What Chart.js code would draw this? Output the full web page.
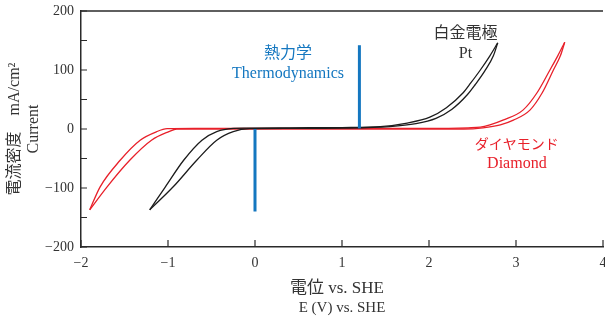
<!DOCTYPE html>
<html><head><meta charset="utf-8">
<script src="https://cdn.jsdelivr.net/npm/chart.js@4"></script>
<style>html,body{margin:0;padding:0;background:#fff}canvas{display:block}</style>
</head><body>
<canvas id="c" width="605" height="320"></canvas>
<script>
// ---- data (V vs. SHE, mA/cm2) ----
const xRange = [-2, 4];
const yRange = [-200, 200];
const yMajorStep = 100;
const yMinorStep = 50;
const xStep = 1;

// Pt electrode loop, two branches (cathodic vertex -> anodic vertex)
const ptBranchA = [[-1.21,-137],[-1.03,-98],[-0.82,-53],[-0.61,-19],[-0.44,-4.5],[-0.25,1],[-0.1,1.5],[0.4,2],[1.0,2.5],[1.44,4],[1.75,10],[2.01,20],[2.2,36],[2.39,61],[2.48,78],[2.59,100],[2.70,124],[2.79,146]];
const ptBranchB = [[-1.21,-137],[-0.94,-98],[-0.67,-53],[-0.44,-19],[-0.25,-4.5],[-0.06,0.5],[0.4,1],[1.0,1.5],[1.55,4],[1.85,9],[2.08,18],[2.26,33],[2.44,58],[2.53,75],[2.64,98],[2.74,124],[2.79,146]];
// Diamond electrode loop, two branches
const diaBranchA = [[-1.90,-137],[-1.78,-98],[-1.55,-53],[-1.32,-19],[-1.13,-4.5],[-1.01,0.5],[-0.7,1],[0.5,1],[2.0,1],[2.45,2],[2.59,3],[2.70,7],[2.85,15],[3.08,32],[3.24,61],[3.39,100],[3.48,124],[3.56,147]];
const diaBranchB = [[-1.90,-137],[-1.70,-98],[-1.44,-53],[-1.19,-19],[-0.99,-4.5],[-0.90,0],[-0.5,0],[1.0,0],[2.4,0],[2.62,2],[2.82,7],[2.97,15],[3.16,32],[3.30,61],[3.43,100],[3.51,124],[3.56,147]];
// thermodynamic window markers
const thermoLow = [[0,0],[0,-140]];
const thermoHigh = [[1.2,1],[1.2,142]];

const yTitleLines = ["電流密度　mA/cm²", "Current"];
const xTitleLines = ["電位 vs. SHE", "E (V) vs. SHE"];

const BLACK = '#1c1c1c', RED = '#e8202a', BLUE = '#1477c0', TXT = '#333333';
const SERIF = '"Liberation Serif", "Noto Sans CJK JP", serif';

const toPts = a => a.map(p => ({x: p[0], y: p[1]}));
const curve = (d, c) => ({data: toPts(d), borderColor: c, borderWidth: 1.3, showLine: true, pointRadius: 0, fill: false, cubicInterpolationMode: 'monotone'});
const bar = d => ({data: toPts(d), borderColor: BLUE, borderWidth: 3, showLine: true, pointRadius: 0, fill: false});

const fmt = v => (v < 0 ? '\u2212' + Math.abs(v) : String(v));

const annotations = [
  {text: '白金電極', x: 2.42, y: 162, color: TXT, size: 16},
  {text: 'Pt', x: 2.42, y: 128, color: TXT, size: 16},
  {text: 'ダイヤモンド', x: 3.01, y: -27, color: RED, size: 14},
  {text: 'Diamond', x: 3.01, y: -59, color: RED, size: 16},
  {text: '熱力学', x: 0.38, y: 127, color: BLUE, size: 16},
  {text: 'Thermodynamics', x: 0.38, y: 94, color: BLUE, size: 16}
];

const decor = {
  id: 'decor',
  afterDraw(chart) {
    const ctx = chart.ctx, a = chart.chartArea, xs = chart.scales.x, ys = chart.scales.y;
    ctx.save();
    ctx.strokeStyle = '#2a2a2a';
    ctx.lineWidth = 1.5;
    ctx.beginPath();
    ctx.moveTo(a.left, a.top); ctx.lineTo(a.right, a.top);
    ctx.stroke();
    ctx.lineWidth = 1.2;
    ctx.beginPath();
    for (let v = yRange[0]; v <= yRange[1]; v += yMinorStep) {
      const p = ys.getPixelForValue(v);
      ctx.moveTo(a.left, p); ctx.lineTo(a.left + 6, p);
    }
    for (let v = xRange[0]; v <= xRange[1]; v += xStep) {
      const p = xs.getPixelForValue(v);
      ctx.moveTo(p, a.bottom); ctx.lineTo(p, a.bottom - 7);
    }
    ctx.stroke();
    ctx.textAlign = 'center'; ctx.textBaseline = 'middle';
    annotations.forEach(t => {
      ctx.fillStyle = t.color;
      ctx.font = t.size + 'px ' + SERIF;
      ctx.fillText(t.text, xs.getPixelForValue(t.x), ys.getPixelForValue(t.y));
    });
    // axis titles
    ctx.fillStyle = TXT;
    ctx.font = '17px ' + SERIF;
    ctx.fillText(xTitleLines[0], 337, 289);
    ctx.font = '15px ' + SERIF;
    ctx.fillText(xTitleLines[1], 342, 308);
    ctx.save();
    const cy = (a.top + a.bottom) / 2;
    ctx.translate(15, cy); ctx.rotate(-Math.PI / 2);
    ctx.font = '16px ' + SERIF;
    ctx.fillText(yTitleLines[0], 0, 0);
    ctx.restore();
    ctx.save();
    ctx.translate(34, cy); ctx.rotate(-Math.PI / 2);
    ctx.font = '16px ' + SERIF;
    ctx.fillText(yTitleLines[1], 0, 0);
    ctx.restore();
    ctx.restore();
  }
};

new Chart(document.getElementById('c'), {
  type: 'scatter',
  data: {datasets: [
    bar(thermoLow), bar(thermoHigh),
    curve(ptBranchA, BLACK), curve(ptBranchB, BLACK),
    curve(diaBranchA, RED), curve(diaBranchB, RED)
  ]},
  options: {
    responsive: false, animation: false,
    layout: {padding: {left: 0, top: 11, right: 2, bottom: 0}},
    plugins: {legend: {display: false}, tooltip: {enabled: false}},
    scales: {
      x: {
        type: 'linear', min: xRange[0], max: xRange[1],
        afterFit: s => { s.height = 73; s.paddingLeft = 0; s.paddingRight = 0; },
        border: {display: true, color: '#2a2a2a', width: 1.5},
        grid: {drawOnChartArea: false, drawTicks: false},
        ticks: {stepSize: xStep, padding: 8, color: TXT, font: {family: SERIF, size: 14}, callback: v => fmt(v), maxRotation: 0}
      },
      y: {
        type: 'linear', min: yRange[0], max: yRange[1],
        afterFit: s => { s.width = 81; s.paddingTop = 0; s.paddingBottom = 0; },
        border: {display: true, color: '#2a2a2a', width: 1.5},
        grid: {drawOnChartArea: false, drawTicks: false},
        ticks: {stepSize: yMinorStep, padding: 7, color: TXT, font: {family: SERIF, size: 14}, callback: v => (v % yMajorStep === 0 ? fmt(v) : '')}
      }
    }
  },
  plugins: [decor]
});
</script>
</body></html>
